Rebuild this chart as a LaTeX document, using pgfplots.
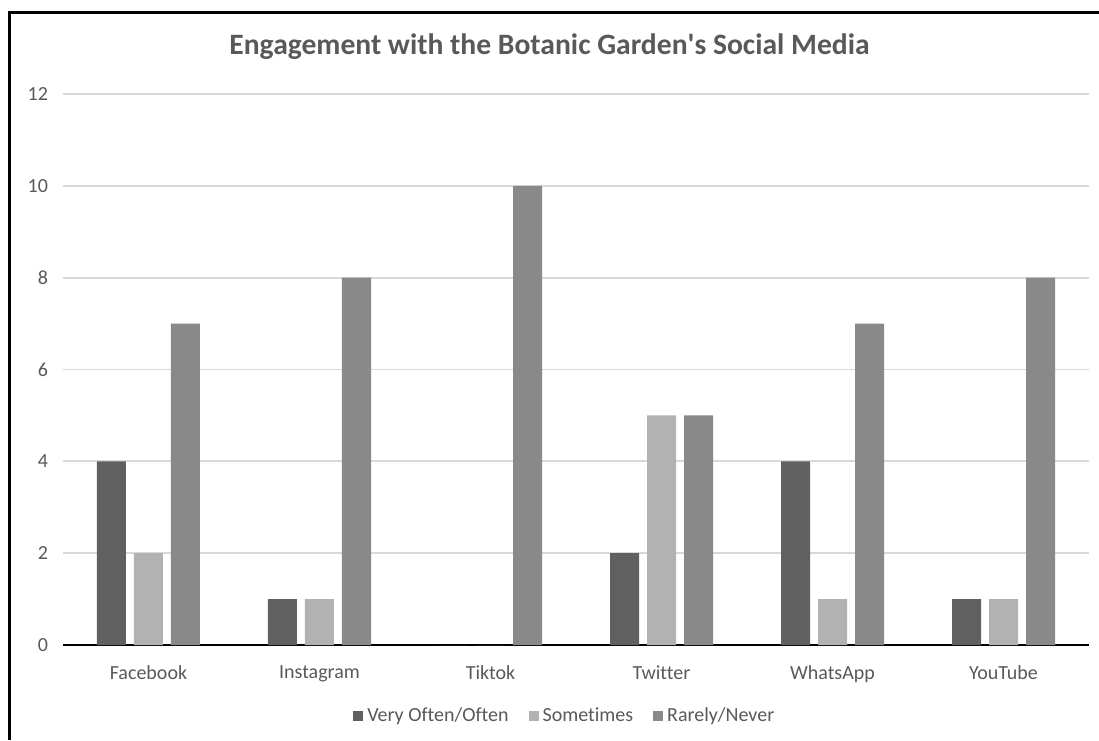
\documentclass[border=0pt]{standalone}
\usepackage{pgfplots}
\pgfplotsset{compat=1.18}
\usepackage{fontspec}
\setmainfont{Carlito}[Ligatures={NoCommon}]
\definecolor{txt}{HTML}{595959}
\definecolor{cdark}{HTML}{606060}
\definecolor{clight}{HTML}{B2B2B2}
\definecolor{cmid}{HTML}{898989}
\definecolor{grid}{HTML}{D9D9D9}
\begin{document}
\begin{tikzpicture}
  % page is 1099x740 px at 0.5pt per px
  \path[use as bounding box] (0,0) rectangle (549.5pt,370pt);
  \draw[line width=1.5pt] (4.75pt,0) -- (4.75pt,363.5pt) -- (549.5pt,363.5pt);
  \node[text=txt, font=\fontsize{14.8}{17}\selectfont\bfseries] at (274.75pt,346.5pt)
    {Engagement with the Botanic Garden\textquotesingle s Social Media};
  \begin{axis}[
      at={(31.5pt,47.5pt)}, anchor=south west,
      scale only axis,
      width=513pt, height=275.5pt,
      ymin=0, ymax=12, ytick={0,2,...,12},
      xmin=-0.5, xmax=5.5,
      xtick=data,
      xticklabels={Facebook,Instagram,Tiktok,Twitter,WhatsApp,YouTube},
      ybar=4pt, bar width=14.5pt,
      axis y line*=left,
      y axis line style={draw=none},
      axis x line*=bottom,
      x axis line style={line width=1pt, black, -},
      ymajorgrids,
      major grid style={draw=grid, line width=0.85pt},
      major tick length=0pt,
      tick style={draw=none},
      ticklabel style={text=txt, font=\fontsize{10}{12}\selectfont},
      /pgf/number format/assume math mode=true,
      yticklabel style={xshift=-4pt},
      xticklabel style={yshift=-7pt},
      legend columns=3,
      legend style={at={(0.49,-0.129)}, anchor=center, draw=none,
        font=\fontsize{10}{12}\selectfont, text=txt,
        /tikz/every even column/.append style={column sep=8pt}},
      legend image code/.code={\fill[#1] (0pt,-2.5pt) rectangle (5pt,2.5pt);},
    ]
    \addplot[fill=cdark, draw=none] coordinates {(0,4) (1,1) (2,0) (3,2) (4,4) (5,1)};
    \addlegendentry{Very Often/Often}
    \addplot[fill=clight, draw=none] coordinates {(0,2) (1,1) (2,0) (3,5) (4,1) (5,1)};
    \addlegendentry{Sometimes}
    \addplot[fill=cmid, draw=none] coordinates {(0,7) (1,8) (2,10) (3,5) (4,7) (5,8)};
    \addlegendentry{Rarely/Never}
  \end{axis}
\end{tikzpicture}
\end{document}
